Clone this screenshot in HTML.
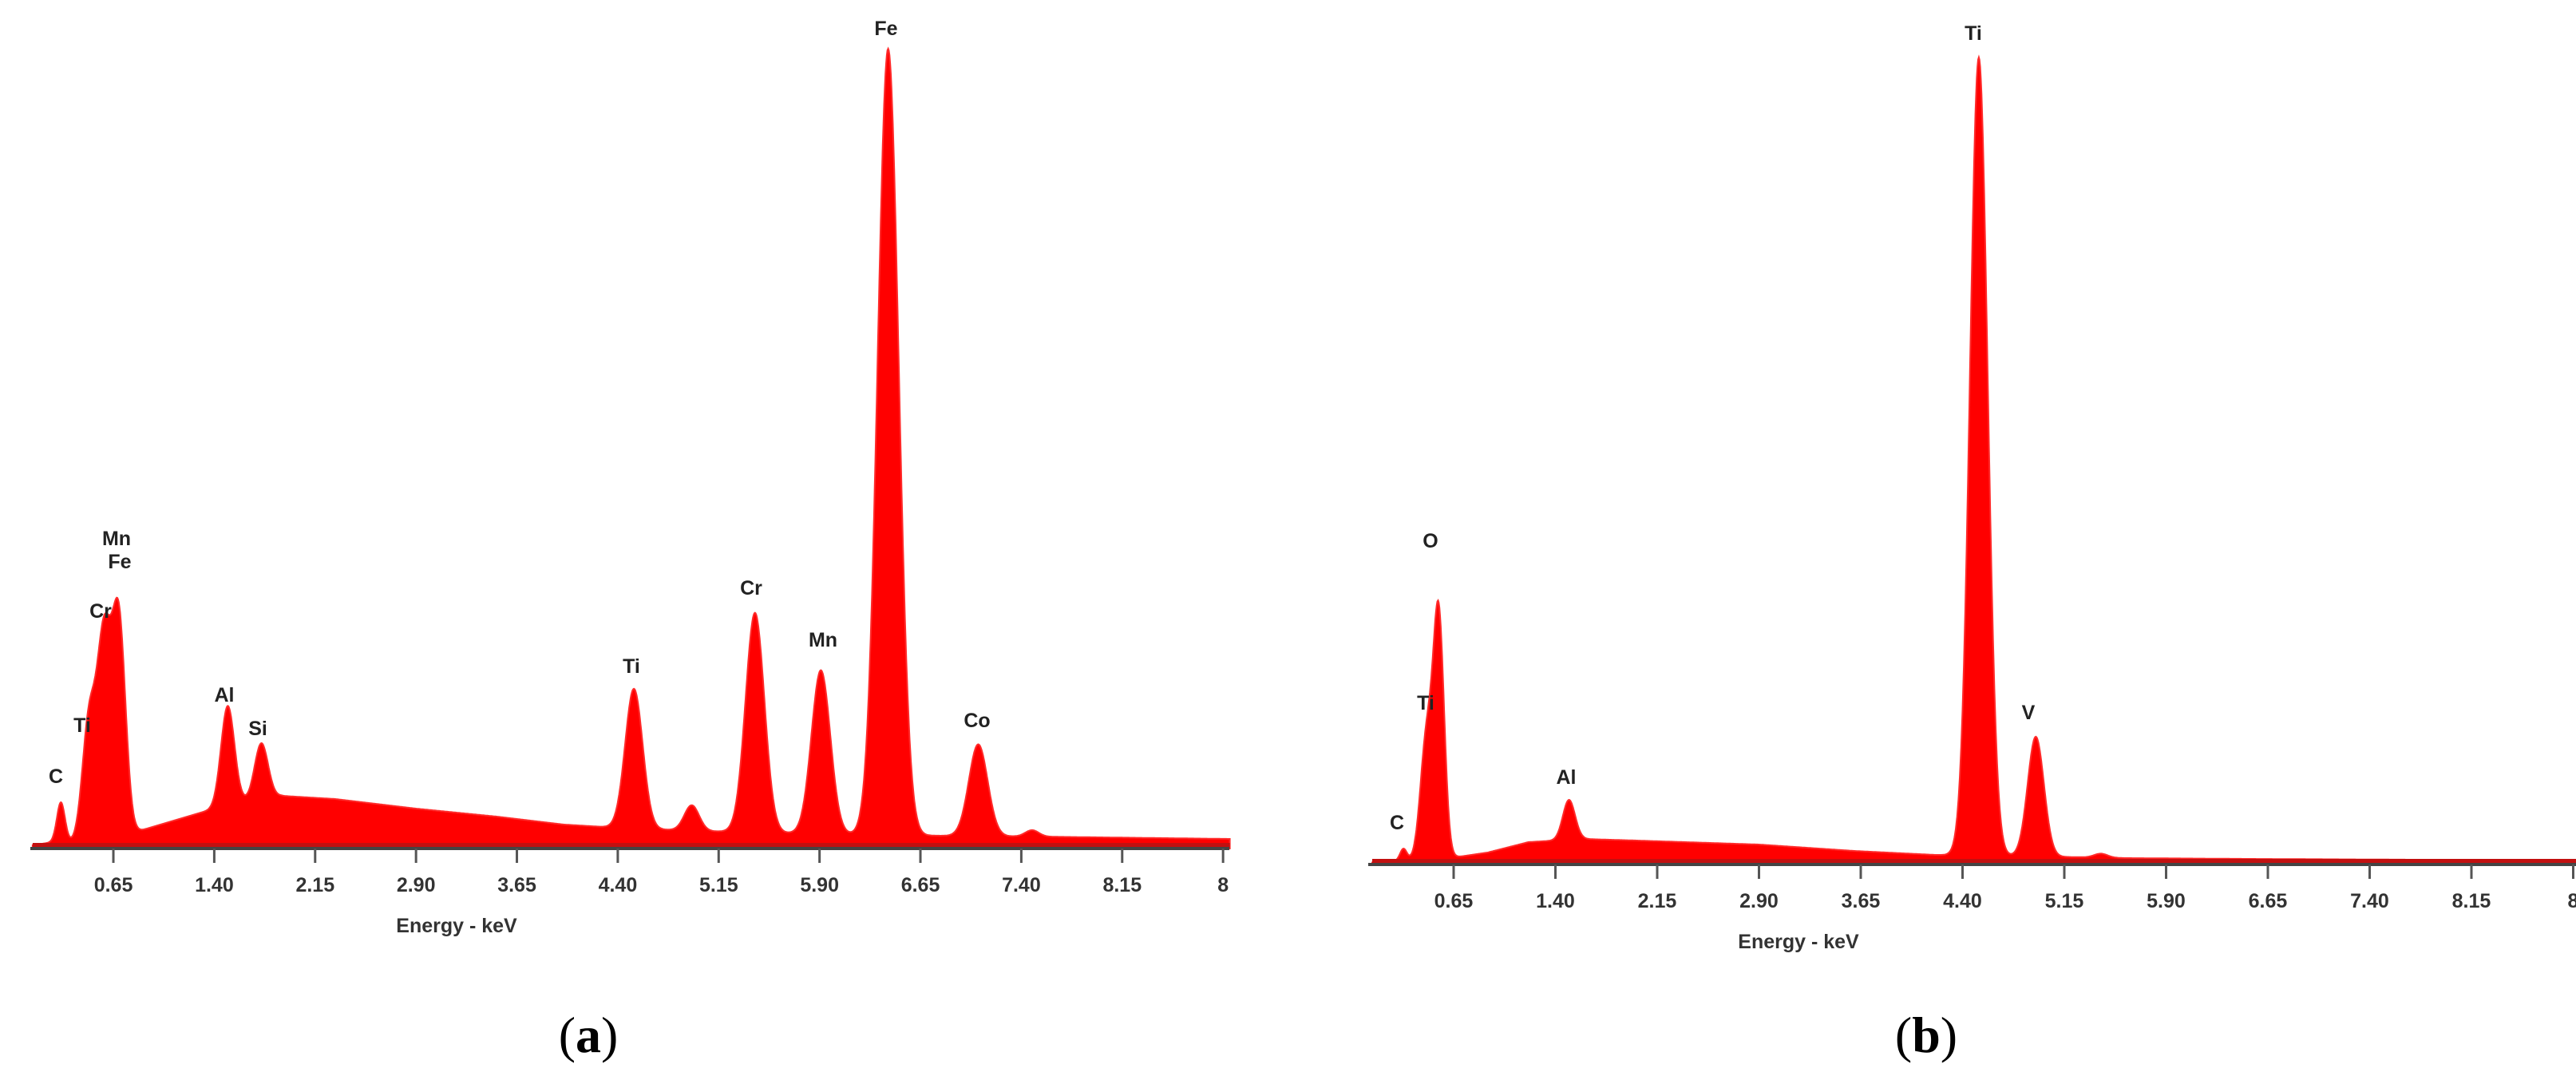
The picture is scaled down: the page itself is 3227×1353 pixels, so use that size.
<!DOCTYPE html>
<html><head><meta charset="utf-8"><style>
html,body{margin:0;padding:0;background:#fff;width:3227px;height:1353px;overflow:hidden}
svg{display:block}
.lbl{font-family:"Liberation Sans Narrow","Liberation Sans",sans-serif;font-weight:bold;font-size:25px;fill:#222}
.tick{font-family:"Liberation Sans Narrow","Liberation Sans",sans-serif;font-weight:bold;font-size:25px;fill:#333}
.cap{font-family:"Liberation Serif",serif;font-size:64px;fill:#000}
</style></head><body>
<svg id="fig" width="3227" height="1353"></svg>
<script>
// ---- data (a) ----
const peaksA_keV = [0.26,0.47,0.58,0.69,1.50,1.75,4.52,4.95,5.42,5.91,6.41,7.08,7.48];
const peaksA_h   = [50,150,240,270,125,70,175,32,275,205,985,115,8];
const peaksA_s   = [0.03,0.05,0.05,0.05,0.05,0.05,0.065,0.055,0.07,0.07,0.078,0.07,0.05];
const bgA_keV = [0.0,0.2,0.35,0.8,1.0,1.3,1.6,1.9,2.3,2.9,3.5,4.0,4.4,5.0,6.0,6.8,7.5,8.95];
const bgA_h   = [3,8,8,20,30,45,58,66,62,50,40,30,26,22,18,16,15,12];
const labelsA = ["Fe","Mn","Fe","Cr","Ti","C","Al","Si","Ti","Cr","Mn","Co"];
// ---- data (b) ----
const peaksB_keV = [0.28,0.45,0.54,1.50,4.52,4.94,5.42];
const peaksB_h   = [15,150,300,50,1000,150,5];
const peaksB_s   = [0.025,0.045,0.04,0.045,0.065,0.06,0.05];
const bgB_keV = [0.0,0.3,0.7,0.9,1.2,1.6,2.0,2.9,3.6,4.2,5.0,5.6,6.5,8.95];
const bgB_h   = [2,5,10,15,28,32,30,25,17,12,10,8,7,5];
const labelsB = ["Ti","O","Ti","C","Al","V"];
const tickVals = [0.65,1.40,2.15,2.90,3.65,4.40,5.15,5.90,6.65,7.40,8.15,8.90];
const tickText = ["0.65","1.40","2.15","2.90","3.65","4.40","5.15","5.90","6.65","7.40","8.15","8"];

const NS="http://www.w3.org/2000/svg";
const svg=document.getElementById('fig');
function mk(t,a,p){const e=document.createElementNS(NS,t);for(const k in a)e.setAttribute(k,a[k]);(p||svg).appendChild(e);return e;}
function interp(xs,ys,x){if(x<=xs[0])return ys[0];for(let i=1;i<xs.length;i++){if(x<=xs[i]){const t=(x-xs[i-1])/(xs[i]-xs[i-1]);return ys[i-1]+t*(ys[i]-ys[i-1]);}}return ys[ys.length-1];}

function chart(cfg){
  const g=mk('g',{});
  
  
  const xS=e=>cfg.x0+e*cfg.k;
  const yS=v=>cfg.base-v;
  let d='M'+xS(cfg.e0)+','+cfg.base;
  for(let e=cfg.e0;e<=cfg.e1+1e-9;e+=0.005){
    let v=interp(cfg.bgx,cfg.bgy,e);
    for(let i=0;i<cfg.pk.length;i++){const z=(e-cfg.pk[i])/cfg.ps[i];v+=cfg.ph[i]*Math.exp(-0.5*z*z);}
    d+=' L'+xS(e).toFixed(1)+','+yS(v).toFixed(1);
  }
  d+=' L'+xS(cfg.e1)+','+cfg.base+' Z';
  const p=mk('path',{d:d,fill:'#ff0000',stroke:'#ff2a2a','stroke-width':2},g);
  
  
  const band=mk('rect',{x:xS(cfg.e0),y:cfg.base-7,width:xS(cfg.e1)-xS(cfg.e0),height:7,fill:'#c21010'},g);
  
  
  const ax=mk('line',{x1:cfg.axStart,y1:cfg.base,x2:cfg.axEnd,y2:cfg.base,stroke:'#444','stroke-width':4},g);
  
  
  for(let i=0;i<tickVals.length;i++){
    const x=xS(tickVals[i]);
    if(x>3227)continue;
    const t=mk('line',{x1:x,y1:cfg.base,x2:x,y2:cfg.base+18,stroke:'#555','stroke-width':3},g);
    
    
    const tx=mk('text',{x:x,y:cfg.base+54,'text-anchor':'middle',class:'tick'},g);
    tx.textContent=tickText[i];
    
    
  }
  const at=mk('text',{x:cfg.titleX,y:cfg.base+105,'text-anchor':'middle',class:'tick'},g);
  at.textContent='Energy - keV';
  
  
  for(let i=0;i<cfg.labels.length;i++){
    const l=mk('text',{x:cfg.lp[i][0],y:cfg.lp[i][1],'text-anchor':'middle',class:'lbl'},g);
    l.textContent=cfg.labels[i];
    
    
  }
  const c=mk('text',{x:cfg.capX,y:1318,'text-anchor':'middle',class:'cap'},g);
  c.appendChild(document.createTextNode('('));
  const b=mk('tspan',{'font-weight':'bold'},c);
  b.textContent=cfg.cap;
  c.appendChild(document.createTextNode(')'));
  
  
}
chart({name:'spectrum-a',x0:32.5,k:168.5,base:1063,e0:0.05,e1:8.95,axStart:38,axEnd:1540,
  pk:peaksA_keV,ph:peaksA_h,ps:peaksA_s,bgx:bgA_keV,bgy:bgA_h,labels:labelsA,titleX:572,capX:737,cap:'a',
  lp:[[1110,44],[146,683],[150,712],[126,774],[103,917],[70,981],[281,879],[323,921],[791,843],[941,745],[1031,810],[1224,911]]});
chart({name:'spectrum-b',x0:1710.5,k:170,base:1083,e0:0.05,e1:8.95,axStart:1714,axEnd:3227,
  pk:peaksB_keV,ph:peaksB_h,ps:peaksB_s,bgx:bgB_keV,bgy:bgB_h,labels:labelsB,titleX:2253,capX:2413,cap:'b',
  lp:[[2472,50],[1792,686],[1786,889],[1750,1039],[1962,982],[2541,901]]});
</script>
</body></html>
